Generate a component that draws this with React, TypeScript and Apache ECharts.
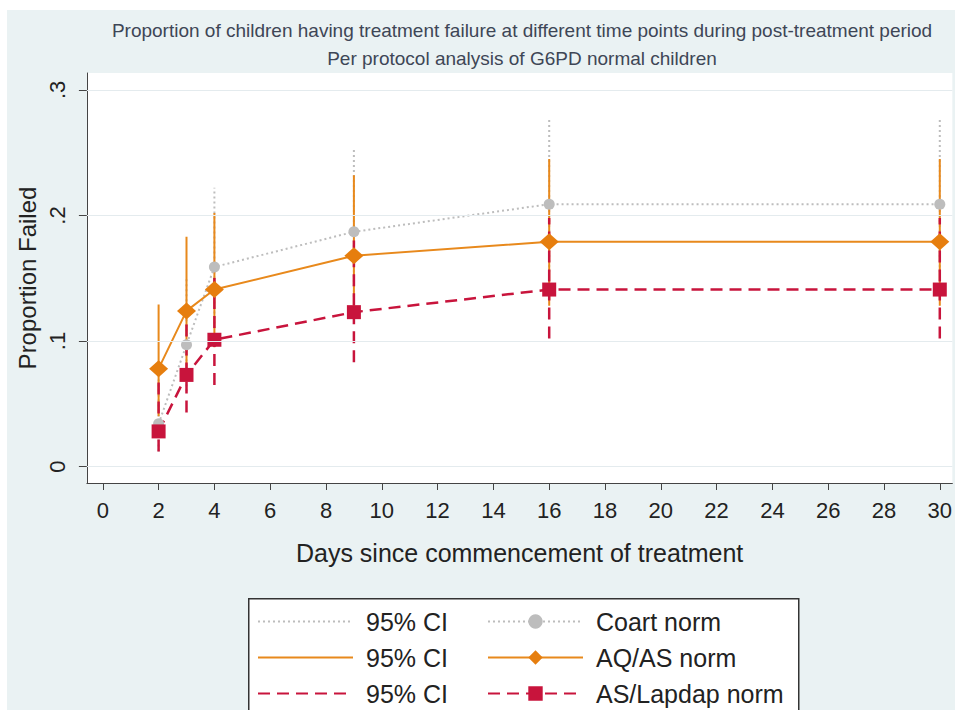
import React, { useEffect, useRef } from "react";
import * as echarts from "echarts";

// ---- data ----
const days = [2, 3, 4, 9, 16, 30];

const coartNorm = [0.034, 0.097, 0.159, 0.187, 0.209, 0.209];
const coartLow = [0.012, 0.06, 0.11, 0.135, 0.155, 0.155];
const coartHigh = [0.07, 0.15, 0.222, 0.254, 0.277, 0.277];

const aqasNorm = [0.078, 0.124, 0.141, 0.168, 0.179, 0.179];
const aqasLow = [0.04, 0.075, 0.095, 0.12, 0.128, 0.128];
const aqasHigh = [0.129, 0.183, 0.202, 0.232, 0.245, 0.245];

const lapdapNorm = [0.028, 0.073, 0.101, 0.123, 0.141, 0.141];
const lapdapLow = [0.012, 0.043, 0.065, 0.083, 0.102, 0.102];
const lapdapHigh = [0.071, 0.114, 0.154, 0.18, 0.198, 0.198];

const xTicks = [0, 2, 4, 6, 8, 10, 12, 14, 16, 18, 20, 22, 24, 26, 28, 30];
const yTicks = [0, 0.1, 0.2, 0.3];

const titleText =
  "Proportion of children having treatment failure at different time points during post-treatment period";
const subtitleText = "Per protocol analysis of G6PD normal children";
const xTitle = "Days since commencement of treatment";
const yTitle = "Proportion Failed";

const FONT = "'Liberation Sans', Arial, Helvetica, sans-serif";

const GRAY = "#bdbdbd";
const ORANGE = "#e8891c";
const RED = "#c8143c";

function ciData(lo: number[], hi: number[]) {
  const out: any[] = [];
  days.forEach((d, i) => {
    out.push([d, lo[i]]);
    out.push([d, hi[i]]);
    out.push([d, "-"]);
  });
  return out;
}

function pts(vals: number[]) {
  return days.map((d, i) => [d, vals[i]]);
}

export default function App() {
  const ref = useRef<HTMLDivElement>(null);

  useEffect(() => {
    if (!ref.current) return;
    const chart = echarts.init(ref.current, undefined, { renderer: "svg" });

    const grayDot = { color: GRAY, width: 2, type: [2, 3] as any };
    const orangeSolid = { color: ORANGE, width: 2, type: "solid" as any };
    const redDash = { color: RED, width: 2.5, type: [12, 7] as any };

    const legendText = {
      fontSize: 25,
      lineHeight: 24,
      color: "#222",
      fontFamily: FONT,
      padding: [0, 0, 0, 8],
    };

    chart.setOption({
      animation: false,
      backgroundColor: "#eaf2f3",
      textStyle: { fontFamily: FONT },
      title: [
        {
          text: titleText,
          left: 515,
          textAlign: "center",
          top: 11,
          padding: 0,
          textStyle: { fontSize: 19, fontWeight: "normal", color: "#3e4656", fontFamily: FONT },
        },
        {
          text: subtitleText,
          left: 515,
          textAlign: "center",
          top: 39,
          padding: 0,
          textStyle: { fontSize: 19, fontWeight: "normal", color: "#3e4656", fontFamily: FONT },
        },
      ],
      graphic: [
        {
          type: "rect",
          left: 241,
          top: 588,
          shape: { width: 550, height: 140 },
          style: { fill: "#ffffff", stroke: "#333", lineWidth: 1.5 },
          z: 0,
        },
      ],
      legend: [
        {
          data: [
            { name: "ciCoart", itemStyle: { opacity: 0 } },
            { name: "ciAqas", itemStyle: { opacity: 0 } },
            { name: "ciLapdap", itemStyle: { opacity: 0 } },
          ],
          orient: "vertical",
          left: 250,
          top: 599,
          padding: 0,
          itemWidth: 95,
          itemHeight: 18,
          itemGap: 11,
          selectedMode: false,
          formatter: () => "95% CI",
          textStyle: legendText,
          z: 5,
        },
        {
          data: ["Coart norm", "AQ/AS norm", "AS/Lapdap norm"],
          orient: "vertical",
          left: 480,
          top: 599,
          padding: 0,
          itemWidth: 95,
          itemHeight: 18,
          itemGap: 11,
          selectedMode: false,
          textStyle: legendText,
          z: 5,
        },
      ],
      grid: {
        left: 78,
        top: 63,
        right: 0,
        bottom: 227,
        show: true,
        backgroundColor: "#ffffff",
        borderWidth: 0,
      },
      xAxis: {
        type: "value",
        min: -0.57,
        max: 30.45,
        axisLine: { show: true, onZero: false, lineStyle: { color: "#444", width: 1 } },
        axisTick: { show: true, length: 7, customValues: xTicks, lineStyle: { color: "#444" } },
        axisLabel: {
          customValues: xTicks,
          margin: 16,
          fontSize: 22,
          color: "#222",
          fontFamily: FONT,
        },
        splitLine: { show: false },
        name: xTitle,
        nameLocation: "middle",
        nameGap: 57,
        nameTextStyle: { fontSize: 25, color: "#222", fontFamily: FONT },
      },
      yAxis: {
        type: "value",
        min: -0.0131,
        max: 0.3135,
        axisLine: { show: true, onZero: false, lineStyle: { color: "#444", width: 1 } },
        axisTick: { show: true, length: 8, customValues: yTicks, lineStyle: { color: "#444" } },
        axisLabel: {
          customValues: yTicks,
          rotate: 90,
          margin: 18,
          fontSize: 22,
          color: "#222",
          fontFamily: FONT,
          formatter: (v: number) => (v === 0 ? "0" : String(Math.round(v * 10) / 10).replace("0.", ".")),
        },
        splitLine: { show: false },
        name: yTitle,
        nameLocation: "middle",
        nameRotate: 90,
        nameGap: 42,
        nameTextStyle: { fontSize: 24, color: "#222", fontFamily: FONT },
      },
      series: [
        {
          name: "grid",
          type: "line",
          data: [],
          silent: true,
          markLine: {
            silent: true,
            symbol: "none",
            label: { show: false },
            lineStyle: { color: "#e4ebee", type: "solid", width: 1.2 },
            data: yTicks.map((v) => ({ yAxis: v })),
          },
        },
        {
          name: "ciCoart",
          type: "line",
          data: ciData(coartLow, coartHigh),
          symbol: "none",
          connectNulls: false,
          lineStyle: grayDot,
          itemStyle: { color: GRAY },
          silent: true,
        },
        {
          name: "ciAqas",
          type: "line",
          data: ciData(aqasLow, aqasHigh),
          symbol: "none",
          connectNulls: false,
          lineStyle: orangeSolid,
          itemStyle: { color: ORANGE },
          silent: true,
        },
        {
          name: "ciLapdap",
          type: "line",
          data: ciData(lapdapLow, lapdapHigh),
          symbol: "none",
          connectNulls: false,
          lineStyle: redDash,
          itemStyle: { color: RED },
          silent: true,
        },
        {
          name: "Coart norm",
          type: "line",
          data: pts(coartNorm),
          symbol: "circle",
          symbolSize: 11,
          lineStyle: grayDot,
          itemStyle: { color: GRAY },
          silent: true,
        },
        {
          name: "AQ/AS norm",
          type: "line",
          data: pts(aqasNorm),
          symbol: "diamond",
          symbolSize: [19, 17],
          lineStyle: orangeSolid,
          itemStyle: { color: "#e67e0e" },
          silent: true,
        },
        {
          name: "AS/Lapdap norm",
          type: "line",
          data: pts(lapdapNorm),
          symbol: "rect",
          symbolSize: 14,
          lineStyle: redDash,
          itemStyle: { color: RED },
          silent: true,
        },
      ],
    });

    return () => {
      chart.dispose();
    };
  }, []);

  return (
    <div
      style={{
        position: "fixed",
        left: 0,
        top: 0,
        width: 955,
        height: 710,
        background: "#ffffff",
        overflow: "hidden",
      }}
    >
      <div
        ref={ref}
        style={{ position: "absolute", left: 7, top: 10, width: 948, height: 700 }}
      />
    </div>
  );
}
